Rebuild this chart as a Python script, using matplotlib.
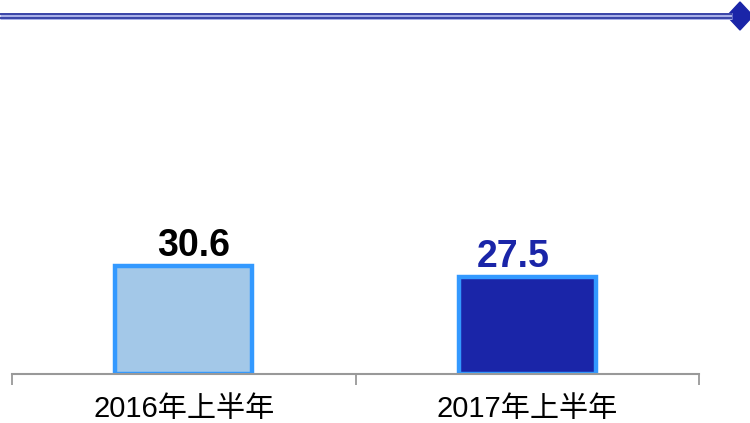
import matplotlib
matplotlib.use("Agg")
import matplotlib.pyplot as plt
from matplotlib.patches import Polygon

categories = ["2016年上半年", "2017年上半年"]
values = [30.6, 27.5]
fill_colors = ["#A3C8E8", "#1A25A8"]
label_colors = ["#000000", "#1A25A8"]
label_offsets = [0.03, -0.04]

W, H = 750, 423
fig = plt.figure(figsize=(7.5, 4.23), dpi=100)

# main axes: bottom at y=374 px, top at y=40 px
ax_left, ax_right = 12, 699
ax_bottom, ax_top = 374, 40
ax = fig.add_axes([ax_left / W, 1 - ax_bottom / H, (ax_right - ax_left) / W, (ax_bottom - ax_top) / H])
x = range(len(categories))
ax.bar(x, values, width=0.40, color=fill_colors, edgecolor="#3399FF", linewidth=3.2, zorder=2)
ax.set_xlim(-0.5, len(categories) - 0.5)
ax.set_ylim(0, 94.6)
for i, v in enumerate(values):
    ax.text(i + label_offsets[i], v + 0.6, f"{v:.1f}", ha="center", va="bottom",
            fontsize=27, fontweight="bold", color=label_colors[i],
            family=["Liberation Sans", "DejaVu Sans"])
for s in ["top", "right", "left"]:
    ax.spines[s].set_visible(False)
ax.spines["bottom"].set_color("#999999")
ax.spines["bottom"].set_linewidth(1.5)
ax.spines["bottom"].set_zorder(3)
ax.set_yticks([])
ax.set_xticks([-0.5, 0.5, 1.5], minor=False)
ax.set_xticklabels([])
ax.tick_params(axis="x", length=8, width=1.3, color="#999999", direction="out")
ax.set_xticks(list(x), minor=True)
ax.set_xticklabels(categories, minor=True, fontsize=21,
                   family=["Liberation Sans", "Noto Sans CJK SC"])
ax.tick_params(axis="x", which="minor", length=0, pad=15)

# top decoration
deco = fig.add_axes([0, 0, 1, 1])
deco.set_xlim(0, W)
deco.set_ylim(H, 0)
deco.axis("off")
deco.plot([0, 732], [16, 16], color="#A8B0E8", lw=5, solid_capstyle="butt")
deco.plot([0, 732], [13.8, 13.8], color="#3A45A8", lw=1.4, solid_capstyle="butt")
deco.plot([0, 732], [17.6, 17.6], color="#3A45A8", lw=1.4, solid_capstyle="butt")
deco.add_patch(Polygon([[727, 16], [740, 2], [753, 16], [740, 30]], closed=True,
                       color="#1A25A8"))

fig.savefig("out.png", dpi=100)
